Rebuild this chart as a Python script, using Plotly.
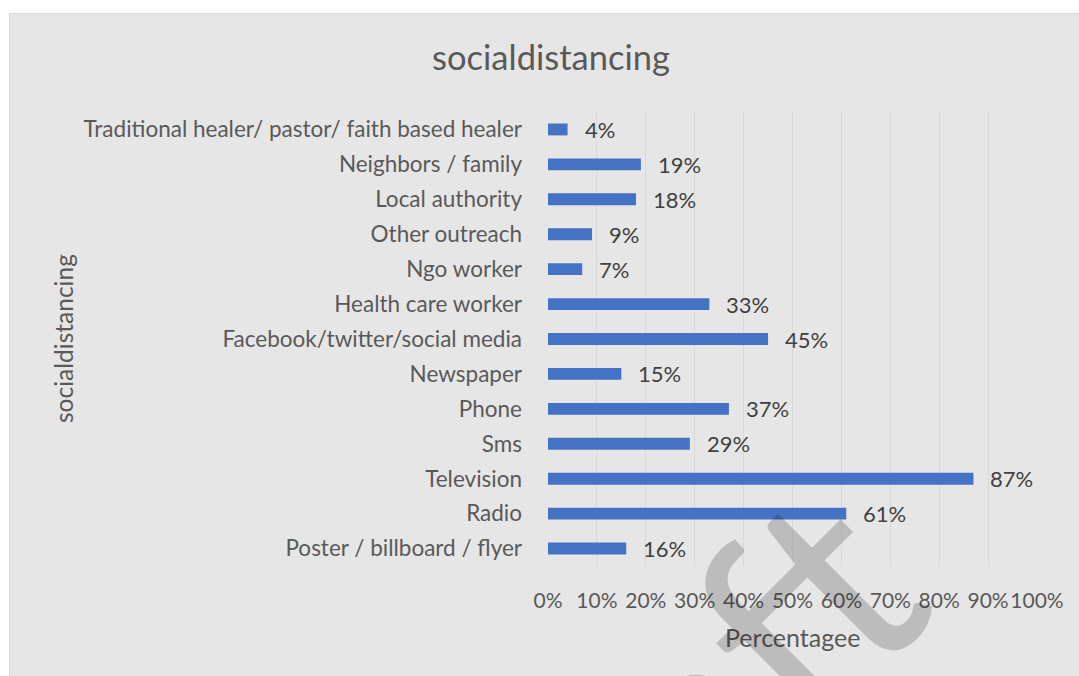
import plotly.graph_objects as go

# Sources of social-distancing information (bottom to top on the chart)
categories = [
    "Poster / billboard / flyer",
    "Radio",
    "Television",
    "Sms",
    "Phone",
    "Newspaper",
    "Facebook/twitter/social media",
    "Health care worker",
    "Ngo worker",
    "Other outreach",
    "Local authority",
    "Neighbors / family",
    "Traditional healer/ pastor/ faith based healer",
]
percentages = [16, 61, 87, 29, 37, 15, 45, 33, 7, 9, 18, 19, 4]
tick_values = [0, 10, 20, 30, 40, 50, 60, 70, 80, 90, 100]
tick_labels = ["0%", "10%", "20%", "30%", "40%", "50%", "60%", "70%", "80%", "90%", "100%"]

FONT = "Lato"
LABEL_GREY = "#595959"
VALUE_GREY = "#404040"
BAR_BLUE = "#4472C4"

W, H = 1079, 676
ML, MR, MT, MB = 548, 42, 112, 110
PW, PH = W - ML - MR, H - MT - MB


def px_x(px):
    return (px - ML) / PW


def px_y(py):
    return (H - MB - py) / PH


fig = go.Figure()
fig.add_trace(go.Bar(
    x=percentages,
    y=categories,
    orientation="h",
    marker=dict(color=BAR_BLUE, line=dict(width=0)),
    width=0.34,
    hoverinfo="skip",
))

annotations = []
# value labels to the right of each bar
for cat, val in zip(categories, percentages):
    annotations.append(dict(
        x=val, y=cat, xref="x", yref="y",
        text=f"{val}%", showarrow=False,
        xanchor="left", yanchor="middle", xshift=15,
        font=dict(family=FONT, size=22, color=VALUE_GREY),
    ))

# axis titles
annotations.append(dict(
    x=px_x(792), y=px_y(637), xref="paper", yref="paper",
    text="Percentagee", showarrow=False,
    xanchor="center", yanchor="middle",
    font=dict(family=FONT, size=25, color=LABEL_GREY),
))
annotations.append(dict(
    x=px_x(63), y=px_y(339), xref="paper", yref="paper",
    text="socialdistancing", showarrow=False, textangle=-90,
    xanchor="center", yanchor="middle",
    font=dict(family=FONT, size=24.5, color=LABEL_GREY),
))

# diagonal "Draft" watermark
annotations.append(dict(
    x=px_x(645), y=px_y(758), xref="paper", yref="paper",
    text="Draft", showarrow=False, textangle=-45,
    xanchor="center", yanchor="middle",
    font=dict(family=FONT, size=275, color="rgba(0,0,0,0.18)"),
))

fig.update_layout(
    width=W, height=H,
    margin=dict(l=ML, r=MR, t=MT, b=MB, pad=0),
    paper_bgcolor="white",
    plot_bgcolor="rgba(0,0,0,0)",
    showlegend=False,
    title=dict(
        text="socialdistancing",
        x=551 / W, xanchor="center",
        y=1 - 58 / H, yanchor="middle",
        font=dict(family=FONT, size=34.5, color=LABEL_GREY),
    ),
    xaxis=dict(
        range=[0, 100],
        tickmode="array", tickvals=tick_values, ticktext=tick_labels,
        showgrid=True, gridcolor="#d9d9d9", gridwidth=1,
        zeroline=False, showline=False, ticks="",
        tickangle=0,
        tickfont=dict(family=FONT, size=21, color=LABEL_GREY),
        ticklabelstandoff=20,
        fixedrange=True,
    ),
    yaxis=dict(
        categoryorder="array", categoryarray=categories,
        showgrid=False, zeroline=False, showline=False, ticks="",
        tickfont=dict(family=FONT, size=22.5, color=LABEL_GREY),
        ticklabelstandoff=25,
        fixedrange=True,
    ),
    annotations=annotations,
    shapes=[dict(
        type="rect", xref="paper", yref="paper", layer="below",
        x0=px_x(9.5), x1=px_x(1085), y0=px_y(13.5), y1=px_y(690),
        fillcolor="#e7e6e6", line=dict(color="#d9d9d9", width=1),
    )],
)

fig.write_html("out.html")
